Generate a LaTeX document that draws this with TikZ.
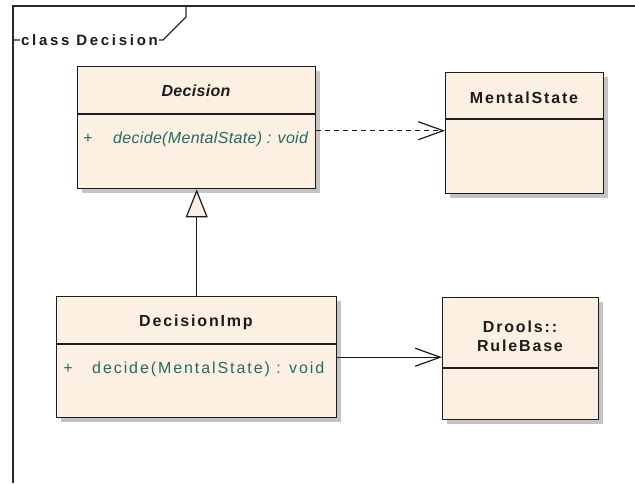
\documentclass[tikz,border=0pt]{standalone}
\usepackage{fontspec}
\usetikzlibrary{arrows.meta,shadows}
\setmainfont{Liberation Sans}
\newfontfamily\titlefont{Liberation Sans}[LetterSpace=11.5]
\newfontfamily\opfont{Liberation Sans}[LetterSpace=12]
\newfontfamily\opitfont{Liberation Sans}[LetterSpace=2]
\newfontfamily\framefont{Liberation Sans}[LetterSpace=18]
\definecolor{boxfill}{RGB}{251,240,226}
\definecolor{boxshadow}{RGB}{196,196,196}
\definecolor{boxline}{RGB}{28,28,28}
\definecolor{optext}{RGB}{40,104,104}
\definecolor{frameline}{RGB}{40,40,40}
\begin{document}
\begin{tikzpicture}[x=1pt,y=-1pt,
  umlclass/.style={draw=boxline, fill=boxfill, line width=1.4pt, rectangle,
    anchor=north west, inner sep=0pt,
    general shadow={fill=boxshadow, shadow xshift=4pt, shadow yshift=-4pt}},
  divider/.style={draw=boxline, line width=1.4pt},
  classname/.style={inner sep=0pt, text=boxline, font=\fontsize{16}{19}\selectfont\titlefont\bfseries},
  abstractname/.style={inner sep=0pt, text=boxline, font=\fontsize{16}{19}\selectfont\opitfont\bfseries\itshape},
  operation/.style={inner sep=0pt, anchor=west, text=optext, font=\fontsize{16}{19}\selectfont\opfont},
  abstractop/.style={inner sep=0pt, anchor=west, text=optext, font=\fontsize{16}{19}\selectfont\opitfont\itshape},
  visibility/.style={inner sep=0pt, text=optext, font=\fontsize{16}{19}\selectfont},
  connector/.style={draw=boxline, line width=1.2pt},
  opentip/.style={-{Straight Barb[length=25pt,width=18pt,line width=1.2pt]}}
  ]
\useasboundingbox (0,0) rectangle (635,483);

% diagram frame with its name tab
\draw[frameline, line width=1.3pt] (13,483) -- (13,6) -- (635,6);
\draw[frameline, line width=1.1pt] (13,40) -- (163,40) -- (186,17) -- (186,6);
\node[fill=white, inner sep=1pt, anchor=west, text=boxline,
  font=\fontsize{15}{17}\selectfont\framefont\bfseries] (framename) at (20,40) {class Decision};

% class boxes
\node[umlclass, minimum width=238pt, minimum height=122pt] (Decision) at (77,66) {};
\node[umlclass, minimum width=158pt, minimum height=121pt] (MentalState) at (445,72) {};
\node[umlclass, minimum width=280pt, minimum height=121pt] (DecisionImp) at (56,296) {};
\node[umlclass, minimum width=156pt, minimum height=122pt] (RuleBase) at (442,297) {};

% compartment separators
\draw[divider] (Decision.west |- 0,114) -- (Decision.east |- 0,114);
\draw[divider] (MentalState.west |- 0,119) -- (MentalState.east |- 0,119);
\draw[divider] (DecisionImp.west |- 0,344) -- (DecisionImp.east |- 0,344);
\draw[divider] (RuleBase.west |- 0,368) -- (RuleBase.east |- 0,368);

% class names
\node[abstractname] (nDecision) at (196,91) {Decision};
\node[classname] (nMental) at (524,98) {MentalState};
\node[classname] (nImp) at (196,322) {DecisionImp};
\node[classname, align=center] (nRule) at (520,336) {Drools::\\RuleBase};

% operations
\node[visibility] (vDecision) at (88,139) {+};
\node[abstractop] (oDecision) at (113,139) {decide(MentalState) : void};
\node[visibility] (vImp) at (68,369) {+};
\node[operation] (oImp) at (92,369) {decide(MentalState) : void};

% generalization
\draw[connector, -{Triangle[length=28pt,width=22pt,fill=boxfill,line width=1.2pt]}]
  (DecisionImp.north) -- (Decision.south);

% dependency
\coordinate (depstart) at ([yshift=-3pt]Decision.east);
\draw[connector, opentip, dash pattern=on 5pt off 4pt] (depstart) -- (depstart -| MentalState.west);

% association
\draw[connector, opentip] (DecisionImp.east) -- (DecisionImp.east -| RuleBase.west);
\end{tikzpicture}
\end{document}
